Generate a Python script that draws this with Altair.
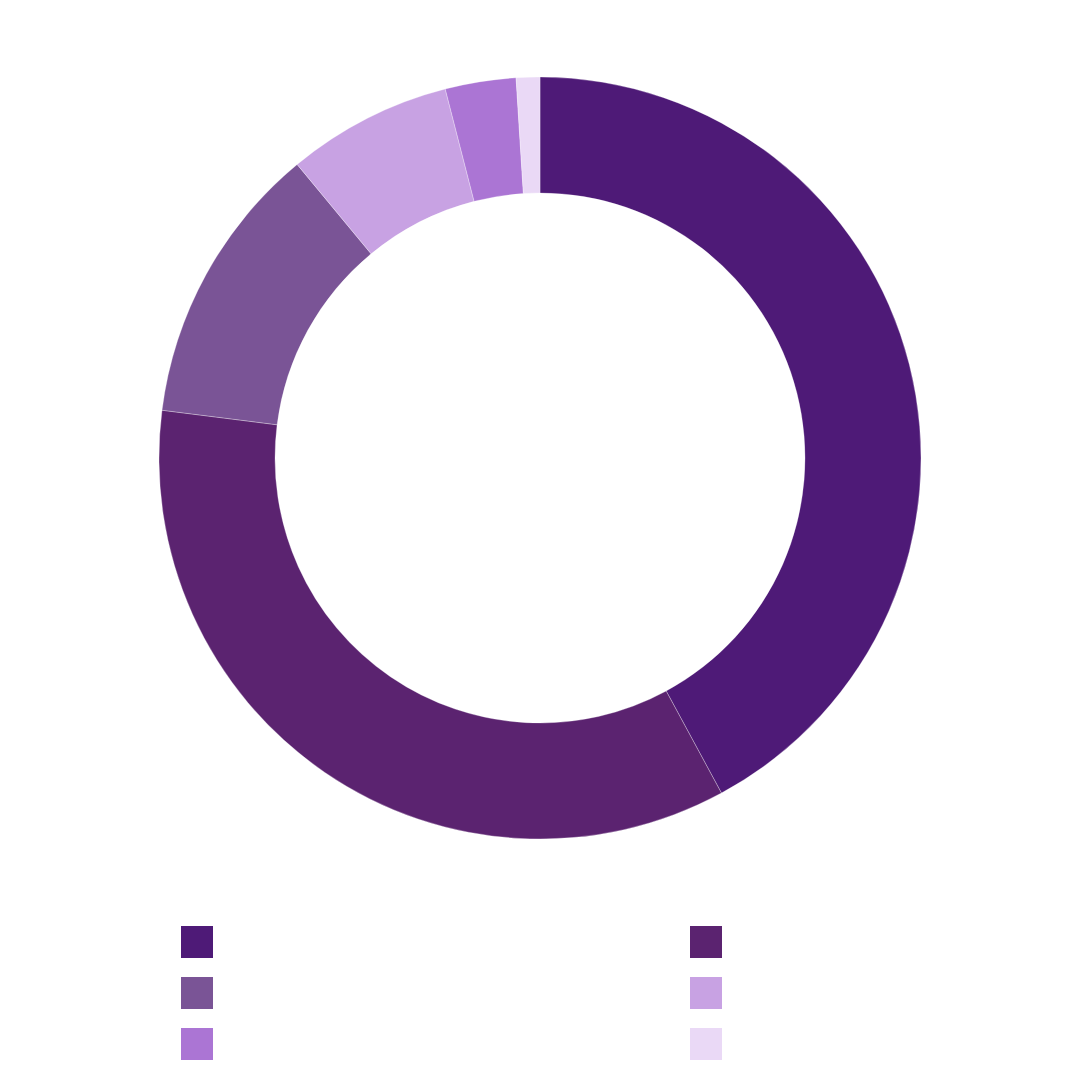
import altair as alt
import pandas as pd

# slice names (legend shows no label text) and shares read off the ring
segments = ["Segment 1", "Segment 2", "Segment 3", "Segment 4", "Segment 5", "Segment 6"]
shares = [42.1, 34.9, 12.0, 7.0, 3.0, 1.0]
palette = ["#4e1a77", "#5b2370", "#7a5496", "#c8a2e3", "#ab75d4", "#ead9f6"]

df = pd.DataFrame({"segment": segments, "share": shares, "idx": range(len(segments))})

# legend fills column by column, so reorder the domain to read row by row
legend_order = [0, 2, 4, 1, 3, 5]
domain = [segments[i] for i in legend_order]
colors = [palette[i] for i in legend_order]

donut = alt.Chart(df).mark_arc(
    x=532, y=450, radius=381, radius2=265, stroke="white", strokeWidth=0.3
).encode(
    theta=alt.Theta("share:Q", stack=True),
    order=alt.Order("idx:Q"),
    color=alt.Color(
        "segment:N",
        scale=alt.Scale(domain=domain, range=colors),
        legend=alt.Legend(
            orient="none", legendX=173, legendY=918, columns=2,
            title=None, symbolType="square", symbolSize=1024,
            symbolStrokeWidth=0, labelExpr="''", labelOffset=0,
            columnPadding=477, rowPadding=19,
        ),
    ),
)

chart = donut.properties(
    width=1064, height=1064, padding=0,
    autosize=alt.AutoSizeParams(type="none"),
).configure_view(stroke=None)

chart.save("out.html", embed_options={"renderer": "svg", "actions": False})
